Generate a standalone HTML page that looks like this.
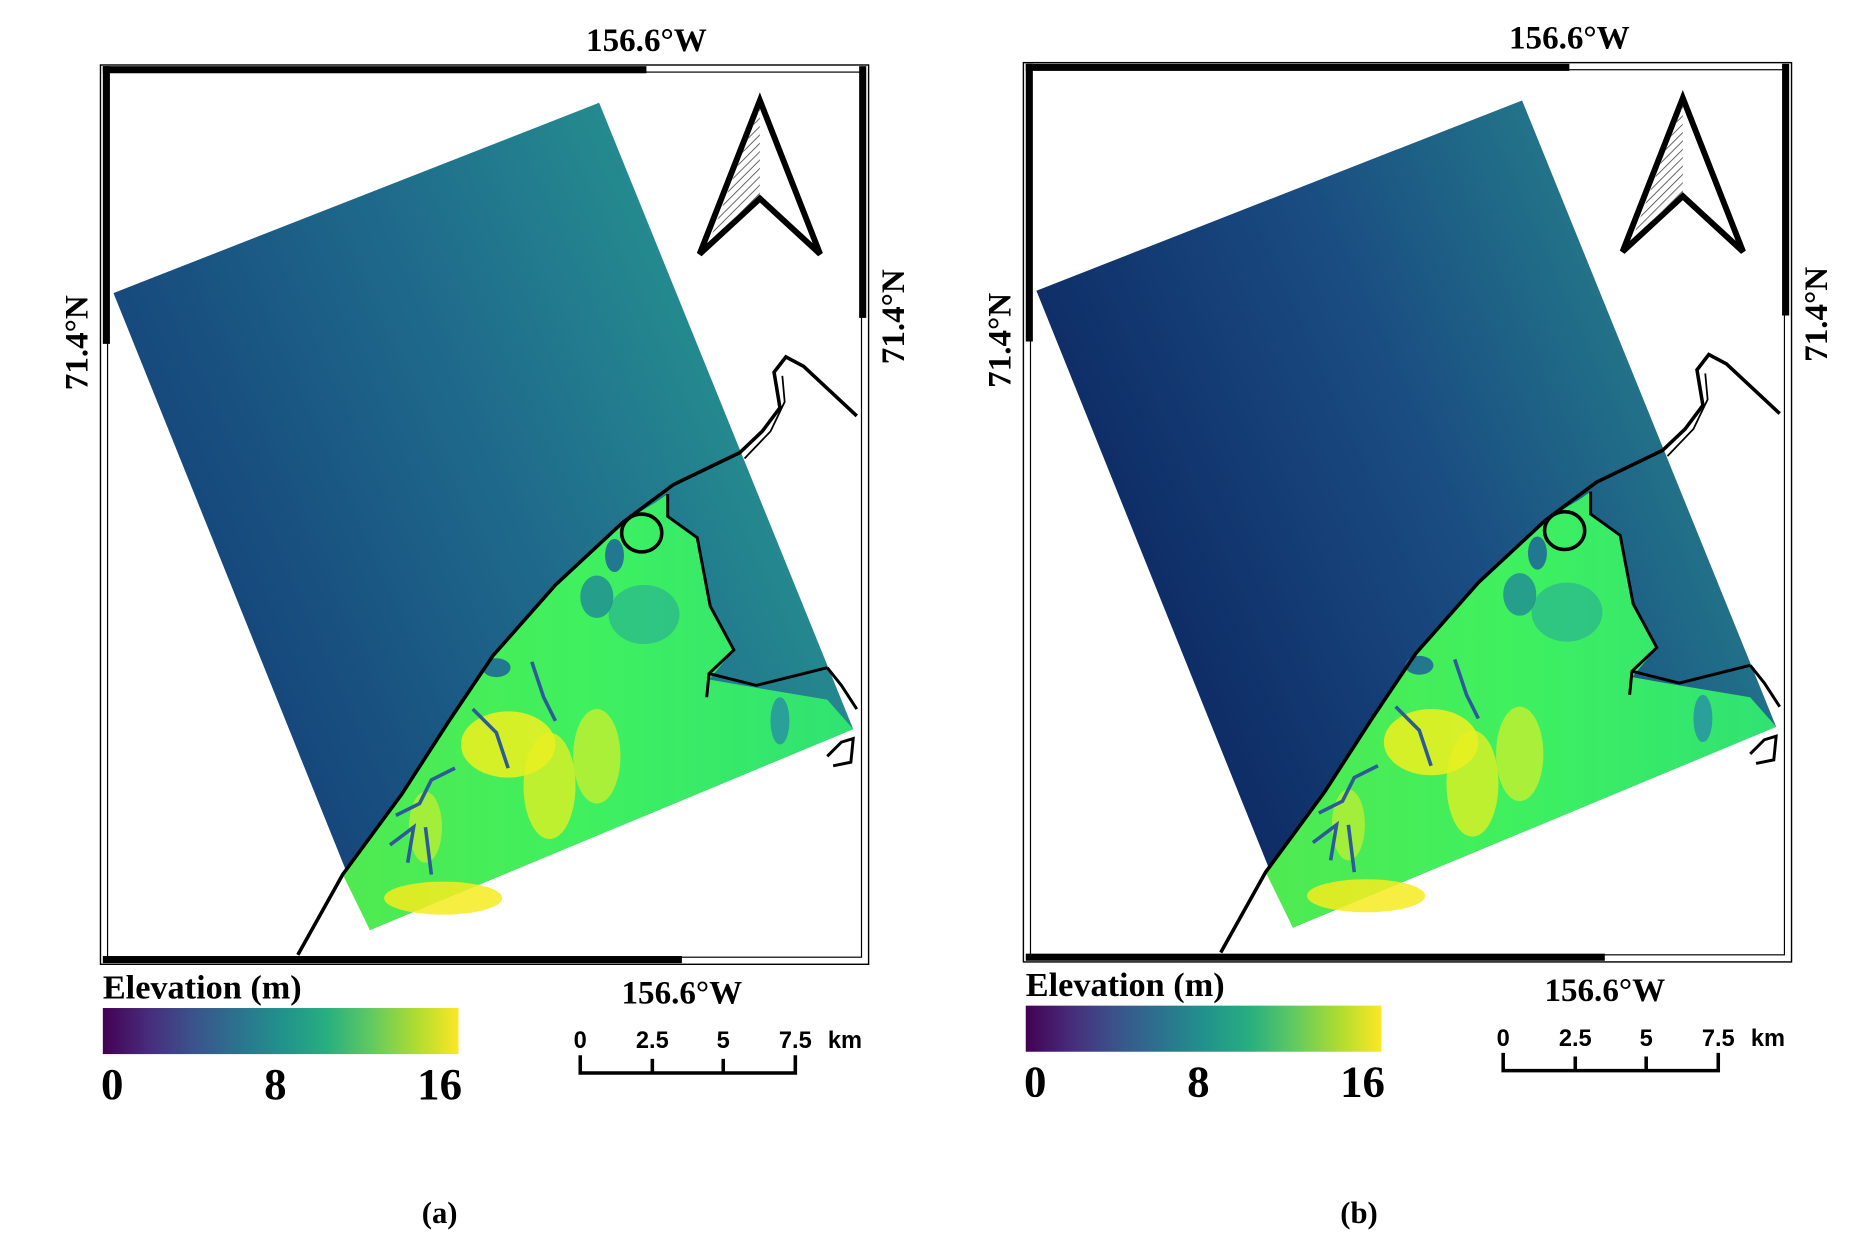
<!DOCTYPE html>
<html><head><meta charset="utf-8"><style>
html,body{margin:0;padding:0;background:#fff;}
svg{display:block}
</style></head><body>
<svg width="1853" height="1255" viewBox="0 0 1568 1062" xmlns="http://www.w3.org/2000/svg">
<defs>
<linearGradient id="vir" x1="0" x2="1" y1="0" y2="0">
<stop offset="0" stop-color="#440154"/><stop offset="0.13" stop-color="#472d7b"/>
<stop offset="0.25" stop-color="#3b528b"/><stop offset="0.38" stop-color="#2c728e"/>
<stop offset="0.5" stop-color="#21918c"/><stop offset="0.63" stop-color="#28ae80"/>
<stop offset="0.75" stop-color="#5ec962"/><stop offset="0.88" stop-color="#addc30"/>
<stop offset="1" stop-color="#fde725"/></linearGradient>
<linearGradient id="sea" x1="0" y1="0.5" x2="1" y2="0">
<stop offset="0" stop-color="#143f78"/><stop offset="0.45" stop-color="#1f6b8c"/><stop offset="1" stop-color="#2aaa92"/></linearGradient>
<linearGradient id="seab" x1="0" y1="0.5" x2="1" y2="0">
<stop offset="0" stop-color="#0c2560"/><stop offset="0.45" stop-color="#1a4d82"/><stop offset="1" stop-color="#2a9a90"/></linearGradient>
<linearGradient id="land" x1="0" y1="0" x2="1" y2="0">
<stop offset="0" stop-color="#50ea50"/><stop offset="0.5" stop-color="#3ef060"/><stop offset="1" stop-color="#30e272"/></linearGradient>
<pattern id="hatch" width="5" height="5" patternUnits="userSpaceOnUse" patternTransform="rotate(45)"><line x1="0" y1="0" x2="0" y2="5" stroke="#555" stroke-width="1.5"/></pattern>
<g id="frame">
<rect x="85" y="55" width="650" height="761" fill="none" stroke="#000" stroke-width="1.2"/>
<rect x="91" y="61" width="638" height="749" fill="none" stroke="#000" stroke-width="1"/>
<rect x="87" y="56" width="460" height="6" fill="#000"/>
<rect x="87" y="56" width="6" height="235" fill="#000"/>
<rect x="727" y="56" width="6" height="213" fill="#000"/>
<rect x="87" y="809" width="490" height="6" fill="#000"/>
</g>
<g id="landg">
<polygon points="313,787 290,740 340,672 380,610 417,555 470,495 527,442 555,425 565,418 565,437 590,455 601,513 621,550 600,575 640,582 700,592 722,617" fill="url(#land)"/>
<ellipse cx="430" cy="630" rx="40" ry="28" fill="#f0f020" opacity="0.85"/>
<ellipse cx="465" cy="665" rx="22" ry="45" fill="#e8f020" opacity="0.75"/>
<ellipse cx="505" cy="640" rx="20" ry="40" fill="#d8f028" opacity="0.7"/>
<ellipse cx="375" cy="760" rx="50" ry="14" fill="#f4ec20" opacity="0.85"/>
<ellipse cx="360" cy="700" rx="14" ry="30" fill="#c8f030" opacity="0.7"/>
<ellipse cx="545" cy="520" rx="30" ry="25" fill="#2ab58e" opacity="0.7"/>
<ellipse cx="505" cy="505" rx="14" ry="18" fill="#1f8a96" opacity="0.8"/>
<ellipse cx="520" cy="470" rx="8" ry="14" fill="#1f6a96" opacity="0.9"/>
<ellipse cx="420" cy="565" rx="12" ry="8" fill="#1f6a96" opacity="0.9"/>
<ellipse cx="660" cy="610" rx="8" ry="20" fill="#2aa09a"/>
<path d="M335,690 L355,680 L365,660 L385,650 M330,715 L350,700 L345,730 M360,700 L365,740 M400,600 L420,620 L430,650 M450,560 L460,590 L470,610" stroke="#2c5a9a" stroke-width="3" fill="none"/>
</g>
<g id="deco">
<path d="M252,808 L290,740 L340,672 L380,610 L417,555 L470,495 L527,442 L570,410 L626,383 L645,365 L660,345 L655,315 L665,302 L680,310 L725,352" fill="none" stroke="#000" stroke-width="3"/>
<path d="M630,388 L652,365 L664,340 L662,318" fill="none" stroke="#000" stroke-width="1.5"/>
<path d="M565,418 L565,437 L590,455 L601,513 L621,550 L600,570 L598,590 M600,570 L640,580 L700,565 M700,565 L712,580 L725,600 M700,640 L712,628 L722,625 L720,645 L705,648" fill="none" stroke="#000" stroke-width="2.5"/>
<ellipse cx="543" cy="451" rx="17" ry="16" fill="none" stroke="#000" stroke-width="3"/>
<polygon points="643,85 592,215 643,168 694,215" fill="#fff" stroke="#000" stroke-width="5" stroke-linejoin="miter"/>
<polygon points="643,90 600,205 643,165" fill="url(#hatch)"/>
<text x="547" y="43" font-family="Liberation Serif" font-weight="bold" font-size="28" text-anchor="middle">156.6°W</text>
<text x="577" y="849" font-family="Liberation Serif" font-weight="bold" font-size="28" text-anchor="middle">156.6°W</text>
<text transform="translate(74,290) rotate(-90)" font-family="Liberation Serif" font-weight="bold" font-size="28" text-anchor="middle">71.4°N</text>
<text transform="translate(765,268) rotate(-90)" font-family="Liberation Serif" font-weight="bold" font-size="28" text-anchor="middle">71.4°N</text>
<text x="87" y="845" font-family="Liberation Serif" font-weight="bold" font-size="29">Elevation (m)</text>
<rect x="87" y="853" width="301" height="39" fill="url(#vir)"/>
<text x="95" y="930" font-family="Liberation Serif" font-weight="bold" font-size="38" text-anchor="middle">0</text>
<text x="233" y="930" font-family="Liberation Serif" font-weight="bold" font-size="38" text-anchor="middle">8</text>
<text x="372" y="930" font-family="Liberation Serif" font-weight="bold" font-size="38" text-anchor="middle">16</text>
<g font-family="Liberation Sans" font-weight="bold" font-size="20" text-anchor="middle">
<text x="491" y="887">0</text><text x="552" y="887">2.5</text><text x="612" y="887">5</text><text x="673" y="887">7.5</text><text x="715" y="887">km</text></g>
<path d="M491,893 L491,908 L673,908 L673,893 M552,896 L552,908 M612,896 L612,908" fill="none" stroke="#000" stroke-width="3"/>
</g>
</defs>
<use href="#frame"/>
<polygon points="96,248 507,87 722,617 313,787" fill="url(#sea)"/>
<use href="#landg"/>
<use href="#deco"/>
<g transform="translate(781,-2)">
<use href="#frame"/>
<polygon points="96,248 507,87 722,617 313,787" fill="url(#seab)"/>
<use href="#landg"/>
<use href="#deco"/>
</g>
<text x="372" y="1035" font-family="Liberation Serif" font-weight="bold" font-size="26" text-anchor="middle">(a)</text>
<text x="1150" y="1035" font-family="Liberation Serif" font-weight="bold" font-size="26" text-anchor="middle">(b)</text>
</svg>
</body></html>
